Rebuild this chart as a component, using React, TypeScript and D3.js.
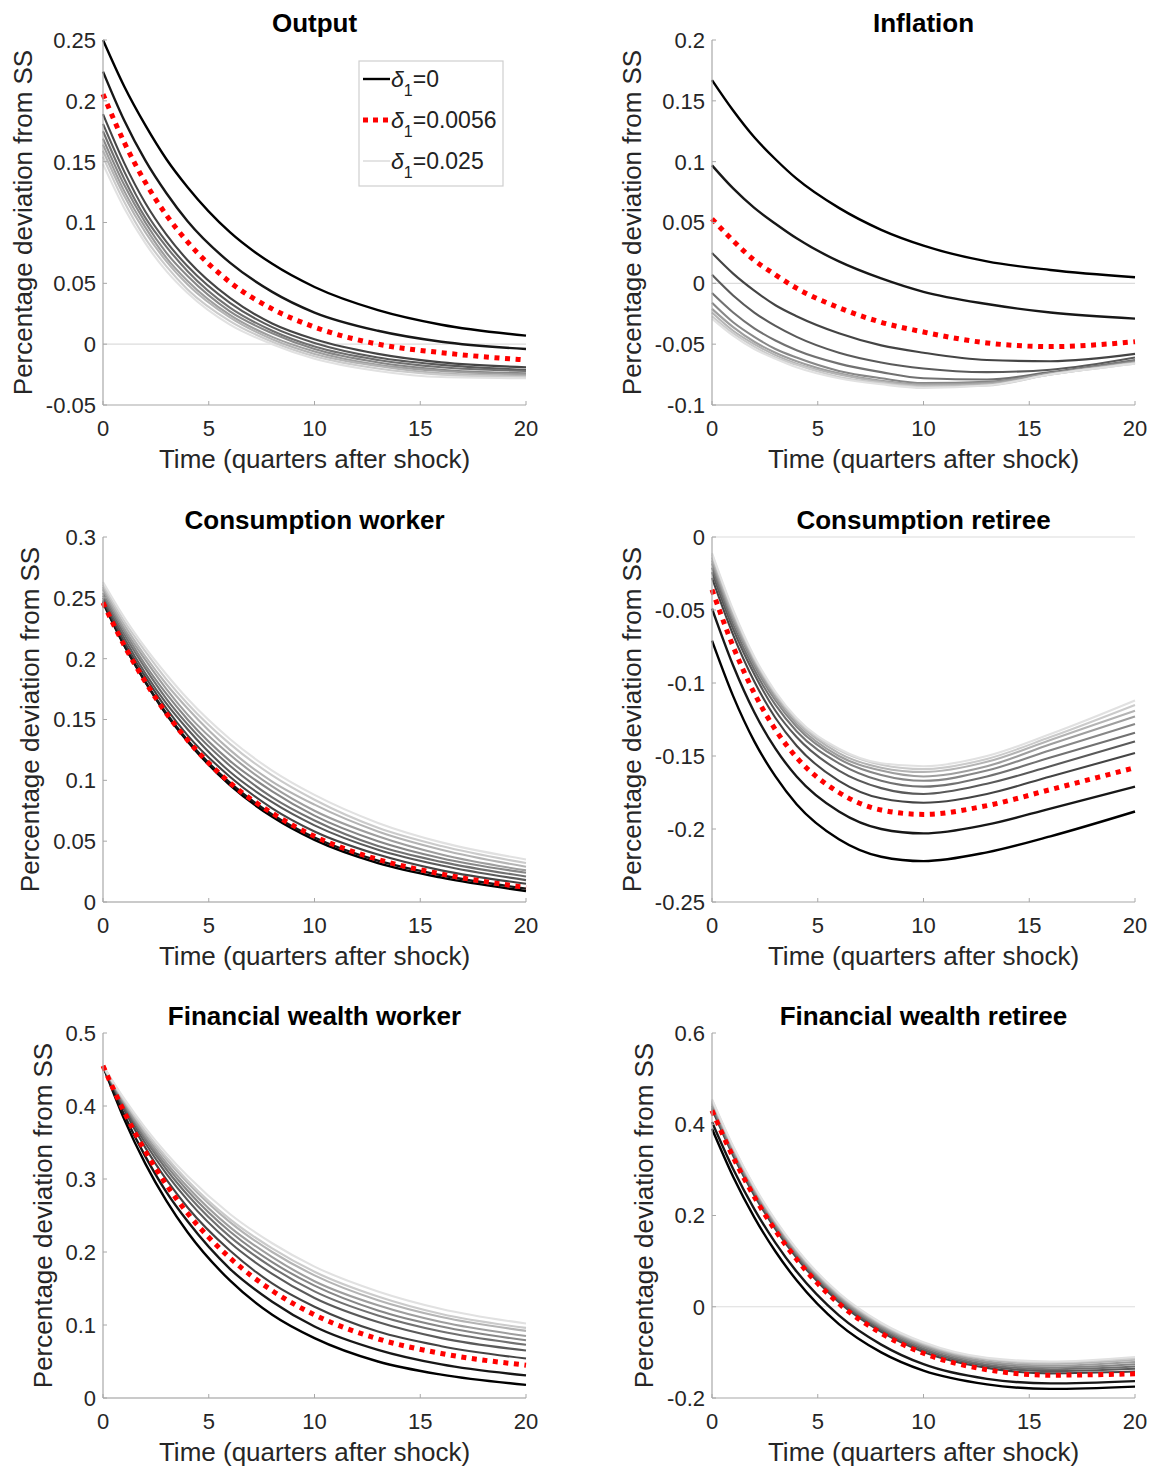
import React from 'react';
import * as d3 from 'd3';

const quarters = [0, 1, 2, 3, 4, 6, 8, 10, 13, 16, 20];
const xTicks = [0, 5, 10, 15, 20];
// position of each solid line in the delta_1 grid (slot 2 is drawn as the red dotted line)
const gridIndex = [0, 1, 3, 4, 5, 6, 7, 8, 9, 10];
const legendLabels = ['0', '0.0056', '0.025'];

// Output
const outputTicks = [-0.05, 0, 0.05, 0.1, 0.15, 0.2, 0.25];
const outputRed = [0.2055, 0.166, 0.133, 0.106, 0.084, 0.051, 0.029, 0.014, 0.0, -0.007, -0.013];
const outputLines = [
  [0.25, 0.212, 0.18, 0.152, 0.129, 0.092, 0.066, 0.047, 0.028, 0.016, 0.007],
  [0.224, 0.184, 0.151, 0.124, 0.101, 0.067, 0.043, 0.026, 0.011, 0.002, -0.004],
  [0.189, 0.149, 0.116, 0.09, 0.069, 0.038, 0.017, 0.004, -0.008, -0.015, -0.019],
  [0.181, 0.142, 0.109, 0.084, 0.064, 0.034, 0.014, 0.001, -0.011, -0.017, -0.021],
  [0.175, 0.136, 0.104, 0.08, 0.06, 0.03, 0.011, -0.002, -0.013, -0.019, -0.022],
  [0.169, 0.131, 0.1, 0.075, 0.056, 0.027, 0.009, -0.004, -0.015, -0.021, -0.024],
  [0.164, 0.126, 0.096, 0.071, 0.052, 0.024, 0.006, -0.006, -0.017, -0.022, -0.025],
  [0.159, 0.122, 0.092, 0.068, 0.049, 0.022, 0.004, -0.008, -0.018, -0.024, -0.026],
  [0.154, 0.117, 0.087, 0.064, 0.045, 0.019, 0.002, -0.01, -0.02, -0.025, -0.027],
  [0.148, 0.112, 0.083, 0.06, 0.042, 0.016, 0.0, -0.012, -0.022, -0.027, -0.028],
];

// Inflation
const inflationTicks = [-0.1, -0.05, 0, 0.05, 0.1, 0.15, 0.2];
const inflationRed = [0.053, 0.035, 0.019, 0.007, -0.004, -0.02, -0.032, -0.04, -0.049, -0.052, -0.048];
const inflationLines = [
  [0.167, 0.142, 0.12, 0.102, 0.086, 0.062, 0.044, 0.031, 0.018, 0.011, 0.005],
  [0.097, 0.078, 0.062, 0.049, 0.037, 0.018, 0.004, -0.007, -0.017, -0.024, -0.029],
  [0.025, 0.008, -0.006, -0.018, -0.027, -0.041, -0.051, -0.057, -0.063, -0.064, -0.058],
  [0.007, -0.01, -0.024, -0.035, -0.044, -0.057, -0.065, -0.07, -0.073, -0.071, -0.061],
  [-0.008, -0.024, -0.037, -0.047, -0.055, -0.066, -0.073, -0.078, -0.079, -0.073, -0.063],
  [-0.016, -0.032, -0.044, -0.054, -0.061, -0.072, -0.078, -0.082, -0.081, -0.074, -0.064],
  [-0.021, -0.036, -0.048, -0.057, -0.064, -0.074, -0.08, -0.083, -0.082, -0.074, -0.065],
  [-0.024, -0.039, -0.05, -0.059, -0.066, -0.075, -0.081, -0.084, -0.083, -0.075, -0.065],
  [-0.027, -0.041, -0.052, -0.061, -0.067, -0.077, -0.082, -0.085, -0.084, -0.075, -0.066],
  [-0.029, -0.043, -0.054, -0.062, -0.069, -0.078, -0.083, -0.086, -0.084, -0.075, -0.066],
];

// Consumption worker
const consWorkerTicks = [0, 0.05, 0.1, 0.15, 0.2, 0.25, 0.3];
const consWorkerRed = [0.246, 0.211, 0.181, 0.155, 0.133, 0.098, 0.073, 0.054, 0.035, 0.023, 0.012];
const consWorkerLines = [
  [0.247, 0.211, 0.181, 0.154, 0.132, 0.096, 0.07, 0.051, 0.032, 0.02, 0.009],
  [0.246, 0.211, 0.181, 0.155, 0.133, 0.098, 0.072, 0.053, 0.034, 0.022, 0.011],
  [0.248, 0.214, 0.185, 0.159, 0.137, 0.103, 0.077, 0.058, 0.039, 0.026, 0.015],
  [0.25, 0.217, 0.188, 0.163, 0.142, 0.107, 0.082, 0.063, 0.043, 0.03, 0.018],
  [0.252, 0.22, 0.192, 0.167, 0.146, 0.112, 0.086, 0.067, 0.046, 0.033, 0.021],
  [0.254, 0.223, 0.195, 0.171, 0.15, 0.116, 0.091, 0.071, 0.05, 0.036, 0.024],
  [0.257, 0.225, 0.199, 0.175, 0.154, 0.121, 0.095, 0.075, 0.054, 0.039, 0.026],
  [0.259, 0.228, 0.202, 0.179, 0.159, 0.125, 0.099, 0.08, 0.058, 0.043, 0.029],
  [0.261, 0.231, 0.206, 0.183, 0.163, 0.13, 0.104, 0.084, 0.061, 0.046, 0.032],
  [0.263, 0.234, 0.209, 0.187, 0.167, 0.134, 0.108, 0.088, 0.065, 0.049, 0.035],
];

// Consumption retiree
const consRetireeTicks = [-0.25, -0.2, -0.15, -0.1, -0.05, 0];
const consRetireeRed = [-0.036, -0.075, -0.107, -0.132, -0.151, -0.175, -0.187, -0.19, -0.184, -0.173, -0.158];
const consRetireeLines = [
  [-0.071, -0.109, -0.14, -0.164, -0.183, -0.207, -0.219, -0.222, -0.216, -0.205, -0.188],
  [-0.049, -0.088, -0.12, -0.145, -0.164, -0.188, -0.2, -0.203, -0.197, -0.186, -0.171],
  [-0.028, -0.067, -0.099, -0.124, -0.143, -0.167, -0.179, -0.182, -0.176, -0.164, -0.148],
  [-0.024, -0.063, -0.094, -0.119, -0.137, -0.16, -0.172, -0.176, -0.169, -0.157, -0.14],
  [-0.021, -0.06, -0.091, -0.115, -0.133, -0.155, -0.167, -0.171, -0.164, -0.151, -0.134],
  [-0.018, -0.057, -0.088, -0.112, -0.13, -0.152, -0.163, -0.167, -0.16, -0.146, -0.128],
  [-0.016, -0.055, -0.086, -0.11, -0.128, -0.15, -0.16, -0.164, -0.157, -0.142, -0.123],
  [-0.014, -0.053, -0.084, -0.108, -0.126, -0.148, -0.158, -0.161, -0.154, -0.139, -0.119],
  [-0.012, -0.051, -0.083, -0.107, -0.125, -0.146, -0.156, -0.159, -0.152, -0.137, -0.115],
  [-0.011, -0.05, -0.082, -0.106, -0.124, -0.145, -0.155, -0.157, -0.15, -0.135, -0.112],
];

// Financial wealth worker
const wealthWorkerTicks = [0, 0.1, 0.2, 0.3, 0.4, 0.5];
const wealthWorkerRed = [0.455, 0.392, 0.338, 0.292, 0.253, 0.192, 0.147, 0.114, 0.081, 0.061, 0.045];
const wealthWorkerLines = [
  [0.455, 0.382, 0.321, 0.27, 0.227, 0.161, 0.114, 0.082, 0.05, 0.032, 0.018],
  [0.455, 0.388, 0.331, 0.282, 0.242, 0.177, 0.132, 0.098, 0.066, 0.046, 0.031],
  [0.455, 0.395, 0.343, 0.299, 0.261, 0.202, 0.157, 0.125, 0.091, 0.071, 0.054],
  [0.455, 0.398, 0.349, 0.307, 0.271, 0.213, 0.17, 0.137, 0.104, 0.082, 0.065],
  [0.455, 0.401, 0.354, 0.313, 0.278, 0.221, 0.179, 0.146, 0.113, 0.091, 0.073],
  [0.455, 0.403, 0.357, 0.318, 0.284, 0.228, 0.186, 0.154, 0.12, 0.098, 0.079],
  [0.455, 0.405, 0.36, 0.322, 0.289, 0.234, 0.193, 0.16, 0.127, 0.104, 0.085],
  [0.455, 0.407, 0.364, 0.327, 0.295, 0.241, 0.2, 0.168, 0.134, 0.111, 0.092],
  [0.455, 0.408, 0.366, 0.33, 0.298, 0.245, 0.205, 0.173, 0.139, 0.115, 0.096],
  [0.455, 0.41, 0.37, 0.335, 0.304, 0.252, 0.212, 0.18, 0.146, 0.122, 0.102],
];

// Financial wealth retiree
const wealthRetireeTicks = [-0.2, 0, 0.2, 0.4, 0.6];
const wealthRetireeRed = [0.43, 0.328, 0.241, 0.167, 0.104, 0.007, -0.058, -0.102, -0.138, -0.15, -0.147];
const wealthRetireeLines = [
  [0.39, 0.285, 0.196, 0.121, 0.058, -0.038, -0.1, -0.14, -0.17, -0.18, -0.175],
  [0.405, 0.302, 0.214, 0.14, 0.077, -0.019, -0.083, -0.126, -0.158, -0.168, -0.163],
  [0.433, 0.331, 0.244, 0.17, 0.107, 0.01, -0.055, -0.099, -0.134, -0.146, -0.142],
  [0.437, 0.335, 0.248, 0.174, 0.111, 0.014, -0.051, -0.095, -0.13, -0.141, -0.136],
  [0.441, 0.338, 0.251, 0.177, 0.114, 0.017, -0.048, -0.092, -0.127, -0.137, -0.131],
  [0.444, 0.342, 0.254, 0.18, 0.117, 0.02, -0.045, -0.088, -0.123, -0.133, -0.126],
  [0.448, 0.345, 0.257, 0.183, 0.12, 0.023, -0.042, -0.085, -0.12, -0.129, -0.121],
  [0.451, 0.348, 0.26, 0.186, 0.123, 0.026, -0.039, -0.082, -0.116, -0.125, -0.116],
  [0.453, 0.35, 0.262, 0.188, 0.125, 0.028, -0.037, -0.08, -0.114, -0.122, -0.113],
  [0.455, 0.352, 0.264, 0.19, 0.127, 0.03, -0.035, -0.078, -0.112, -0.12, -0.11],
];

const panels = [
  { title: 'Output', ticks: outputTicks, lines: outputLines, red: outputRed, col: 0, row: 0, legend: true },
  { title: 'Inflation', ticks: inflationTicks, lines: inflationLines, red: inflationRed, col: 1, row: 0 },
  { title: 'Consumption worker', ticks: consWorkerTicks, lines: consWorkerLines, red: consWorkerRed, col: 0, row: 1 },
  { title: 'Consumption retiree', ticks: consRetireeTicks, lines: consRetireeLines, red: consRetireeRed, col: 1, row: 1 },
  { title: 'Financial wealth worker', ticks: wealthWorkerTicks, lines: wealthWorkerLines, red: wealthWorkerRed, col: 0, row: 2 },
  { title: 'Financial wealth retiree', ticks: wealthRetireeTicks, lines: wealthRetireeLines, red: wealthRetireeRed, col: 1, row: 2 },
];

const W = 1152;
const H = 1467;
const colLeft = [103, 712];
const rowTop = [40, 537, 1033];
const plotW = 423;
const plotH = 365;
const FONT = '"Liberation Sans", Arial, Helvetica, sans-serif';
const TICK_SIZE = 22;
const LABEL_SIZE = 26;
const AXIS_COLOR = '#a8a8a8';
const RED = '#ff0000';

const fmt = d3.formatLocale({ decimal: '.', thousands: ',', grouping: [3], currency: ['', ''], minus: '-' }).format('~g');

// rough Arial advance widths, used to place the y label like MATLAB does
const charW = (c: string) => (c === '.' ? 0.278 : c === '-' ? 0.333 : 0.556);
const textW = (s: string, size: number) => s.split('').reduce((a, c) => a + charW(c), 0) * size;

// gray shade of the i-th line of the delta_1 grid
const shade = (i: number) => {
  const g = Math.round(i * 22.5);
  return `rgb(${g},${g},${g})`;
};

function Legend({ x, y }: { x: number; y: number }) {
  const rows = [
    { label: legendLabels[0], stroke: shade(0), dash: null, width: 2.4 },
    { label: legendLabels[1], stroke: RED, dash: '5 5', width: 5 },
    { label: legendLabels[2], stroke: shade(10), dash: null, width: 1.8 },
  ];
  return (
    <g>
      <rect x={x} y={y} width={144} height={125} fill="#fff" stroke="#cfcfcf" strokeWidth={1.2} />
      {rows.map((r, i) => {
        const cy = y + 18 + i * 41;
        return (
          <g key={i}>
            <line x1={x + 4} x2={x + 31} y1={cy} y2={cy} stroke={r.stroke} strokeWidth={r.width}
              strokeDasharray={r.dash || undefined} />
            <text x={x + 32} y={cy + 8} fontFamily={FONT} fontSize={23} fill="#222">
              <tspan fontStyle="italic">δ</tspan>
              <tspan fontSize={16} dy={9}>1</tspan>
              <tspan dy={-9}>={r.label}</tspan>
            </text>
          </g>
        );
      })}
    </g>
  );
}

function Panel({ p }: { p: any }) {
  const left = colLeft[p.col];
  const top = rowTop[p.row];
  const bottom = top + plotH;
  const x = d3.scaleLinear().domain([0, 20]).range([left, left + plotW]);
  const y = d3.scaleLinear().domain(d3.extent(p.ticks) as [number, number]).range([bottom, top]);
  const line = d3
    .line<number>()
    .x((_, i) => x(quarters[i]))
    .y((d) => y(d))
    .curve(d3.curveMonotoneX);

  const maxTickW = d3.max(p.ticks as number[], (t) => textW(fmt(t), TICK_SIZE)) as number;
  const yLabelX = left - 7 - maxTickW - 23;
  const midY = (top + bottom) / 2;

  return (
    <g>
      {/* zero reference line */}
      <line x1={left} x2={left + plotW} y1={y(0)} y2={y(0)} stroke="#dcdcdc" strokeWidth={1.2} />

      {p.lines.map((vals: number[], k: number) => (
        <path key={k} d={line(vals) || ''} fill="none" stroke={shade(gridIndex[k])}
          strokeWidth={gridIndex[k] < 2 ? 2.4 : 2.1} />
      ))}
      <path d={line(p.red) || ''} fill="none" stroke={RED} strokeWidth={5} strokeDasharray="5 5.6" />

      {/* axes */}
      <line x1={left} x2={left} y1={top} y2={bottom} stroke={AXIS_COLOR} strokeWidth={1.2} />
      <line x1={left} x2={left + plotW} y1={bottom} y2={bottom} stroke={AXIS_COLOR} strokeWidth={1.2} />
      {p.ticks.map((t: number) => (
        <g key={'y' + t}>
          <line x1={left} x2={left + 4} y1={y(t)} y2={y(t)} stroke={AXIS_COLOR} strokeWidth={1} />
          <text x={left - 7} y={y(t)} dy="0.36em" textAnchor="end" fontFamily={FONT} fontSize={TICK_SIZE} fill="#262626">
            {fmt(t)}
          </text>
        </g>
      ))}
      {xTicks.map((t) => (
        <g key={'x' + t}>
          <line x1={x(t)} x2={x(t)} y1={bottom} y2={bottom - 4} stroke={AXIS_COLOR} strokeWidth={1} />
          <text x={x(t)} y={bottom + 31} textAnchor="middle" fontFamily={FONT} fontSize={TICK_SIZE} fill="#262626">
            {t}
          </text>
        </g>
      ))}

      <text x={left + plotW / 2} y={bottom + 63} textAnchor="middle" fontFamily={FONT} fontSize={LABEL_SIZE} fill="#262626">
        Time (quarters after shock)
      </text>
      <text transform={`translate(${yLabelX},${midY}) rotate(-90)`} textAnchor="middle" dy="0.35em"
        fontFamily={FONT} fontSize={LABEL_SIZE} fill="#262626">
        Percentage deviation from SS
      </text>
      <text x={left + plotW / 2} y={top - 8} textAnchor="middle" fontFamily={FONT} fontSize={LABEL_SIZE}
        fontWeight="bold" fill="#000">
        {p.title}
      </text>

      {p.legend && <Legend x={left + 256} y={top + 21} />}
    </g>
  );
}

export default function App() {
  return (
    <svg width={W} height={H} viewBox={`0 0 ${W} ${H}`}
      style={{ position: 'absolute', left: 0, top: 0, background: '#fff' }}>
      <rect width={W} height={H} fill="#fff" />
      {panels.map((p) => (
        <Panel key={p.title} p={p} />
      ))}
    </svg>
  );
}
